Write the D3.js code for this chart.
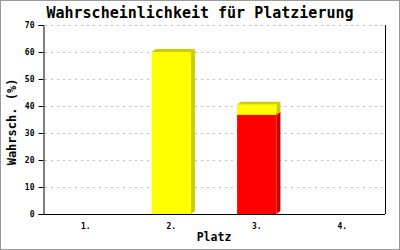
<!DOCTYPE html>
<html>
<head>
<meta charset="utf-8">
<script src="https://cdn.jsdelivr.net/npm/d3@7"></script>
<style>
  body { margin: 0; background: #fff; }
  svg { display: block; }
  text { font-family: "DejaVu Sans Mono", monospace; }
</style>
</head>
<body>
<div id="chart"></div>
<script>
// data
const places = ["1.", "2.", "3.", "4."];
const sicher = [0, 0, 36.7, 0];      // red part
const moeglich = [0, 60, 3.8, 0];    // yellow part
const yTicks = [0, 10, 20, 30, 40, 50, 60, 70];

const W = 400, H = 250;
const margin = { top: 25, right: 15, bottom: 36, left: 43 };
const depthX = 4, depthY = 3;

const svg = d3.select("#chart").append("svg")
    .attr("width", W)
    .attr("height", H);

svg.append("rect")
    .attr("x", 0.5).attr("y", 0.5)
    .attr("width", W - 1).attr("height", H - 1)
    .attr("fill", "#fff")
    .attr("stroke", "#999");

const x = d3.scaleBand()
    .domain(places)
    .range([margin.left, W - margin.right])
    .paddingInner(0.54)
    .paddingOuter(0.27);

const y = d3.scaleLinear()
    .domain([0, 70])
    .range([H - margin.bottom, margin.top]);

// grid
svg.append("g")
    .selectAll("line")
    .data(yTicks.slice(1))
    .join("line")
    .attr("x1", margin.left + 2)
    .attr("x2", W - margin.right)
    .attr("y1", d => Math.round(y(d)) + 0.5)
    .attr("y2", d => Math.round(y(d)) + 0.5)
    .attr("stroke", "#bbb")
    .attr("stroke-dasharray", "2,4");

// stacked bars
const rows = places.map((p, i) => ({ place: p, sicher: sicher[i], moeglich: moeglich[i] }));
const series = d3.stack().keys(["sicher", "moeglich"])(rows);
const colors = {
    sicher: { front: "#ff0000", dark: "#cc0000" },
    moeglich: { front: "#ffff00", dark: "#cccc00" }
};

const bars = svg.append("g");
series.forEach(s => {
    const c = colors[s.key];
    s.forEach(d => {
        if (d[1] - d[0] <= 0) return;
        const x0 = x(d.data.place), x1 = x0 + x.bandwidth();
        const yb = y(d[0]), yt = y(d[1]);
        // side
        bars.append("polygon")
            .attr("points", [[x1, yb], [x1 + depthX, yb - depthY], [x1 + depthX, yt - depthY], [x1, yt]].join(" "))
            .attr("fill", c.dark);
        // top
        bars.append("polygon")
            .attr("points", [[x0, yt], [x0 + depthX, yt - depthY], [x1 + depthX, yt - depthY], [x1, yt]].join(" "))
            .attr("fill", c.dark);
        // front
        bars.append("rect")
            .attr("x", x0)
            .attr("y", yt)
            .attr("width", x.bandwidth())
            .attr("height", yb - yt)
            .attr("fill", c.front);
    });
});

// axes
const yAxis = svg.append("g")
    .attr("transform", `translate(${margin.left + 0.5},0)`)
    .call(d3.axisLeft(y).tickValues(yTicks).tickSize(5).tickPadding(4));
yAxis.selectAll("text")
    .attr("font-family", "DejaVu Sans Mono, monospace")
    .attr("font-size", 8)
    .attr("font-weight", "bold")
    .attr("fill", "#000");

const xAxis = svg.append("g")
    .attr("transform", `translate(0,${H - margin.bottom + 0.5})`)
    .call(d3.axisBottom(x).tickSize(0).tickPadding(9));
xAxis.select(".domain").attr("d", `M${margin.left},0H${W - margin.right}`);
xAxis.selectAll("text")
    .attr("font-family", "DejaVu Sans Mono, monospace")
    .attr("font-size", 8)
    .attr("font-weight", "bold")
    .attr("fill", "#000");

// right frame line
svg.append("line")
    .attr("x1", W - margin.right + 0.5)
    .attr("x2", W - margin.right + 0.5)
    .attr("y1", margin.top)
    .attr("y2", H - margin.bottom)
    .attr("stroke", "#000");

// titles
svg.append("text")
    .attr("x", 200)
    .attr("y", 18)
    .attr("text-anchor", "middle")
    .attr("font-size", 15)
    .attr("font-weight", "bold")
    .text("Wahrscheinlichkeit für Platzierung");

svg.append("text")
    .attr("x", 214)
    .attr("y", 241)
    .attr("text-anchor", "middle")
    .attr("font-size", 11.5)
    .attr("font-weight", "bold")
    .text("Platz");

svg.append("text")
    .attr("transform", "translate(16,122) rotate(-90)")
    .attr("text-anchor", "middle")
    .attr("font-size", 12)
    .attr("font-weight", "bold")
    .text("Wahrsch. (%)");
</script>
</body>
</html>
